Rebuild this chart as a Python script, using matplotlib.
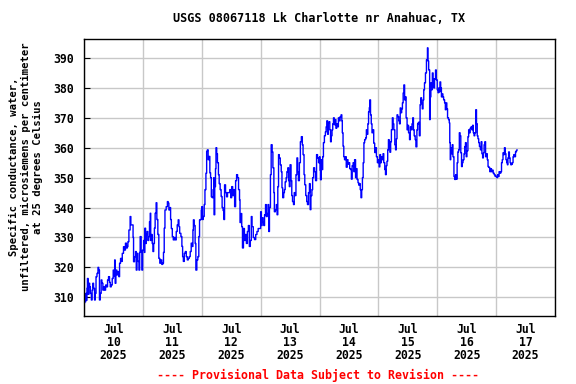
import matplotlib
matplotlib.use("Agg")
import matplotlib.pyplot as plt
import numpy as np

title = "USGS 08067118 Lk Charlotte nr Anahuac, TX"
ylabel = "Specific conductance, water,\nunfiltered, microsiemens per centimeter\nat 25 degrees Celsius"
footer = "---- Provisional Data Subject to Revision ----"
day_labels = ["Jul\n10\n2025", "Jul\n11\n2025", "Jul\n12\n2025", "Jul\n13\n2025",
              "Jul\n14\n2025", "Jul\n15\n2025", "Jul\n16\n2025", "Jul\n17\n2025"]
yticks = [310, 320, 330, 340, 350, 360, 370, 380, 390]

# hours since 2025-07-10 00:00
hours = [
 0.0,0.2,0.4,0.7,0.95,1.2,1.4,1.7,2.0,2.3,2.6,3.0,3.3,3.6,3.9,4.3,4.6,4.9,5.3,5.7,6.0,6.3,6.6,7.0,7.3,7.7,8.0,8.4,8.8,9.2,9.6,10.0,10.4,10.7,11.1,11.5,11.9,12.2,12.5,12.7,13.0,13.4,13.8,14.2,14.5,14.9,15.3,15.6,16.1,16.5,16.9,17.3,17.7,17.9,18.3,18.8,19.1,19.6,20.0,20.2,20.6,21.0,21.3,21.6,22.0,22.4,22.7,22.9,23.3,23.6,23.9,
 24.3,24.6,24.8,25.1,25.4,25.7,26.0,26.4,26.7,27.0,27.2,27.5,27.8,28.1,28.4,28.7,29.0,29.4,29.7,30.1,30.5,30.9,31.3,31.7,32.1,32.4,32.7,33.0,33.5,34.0,34.3,34.6,35.0,35.3,35.6,36.0,36.4,36.8,37.2,37.6,38.0,38.4,38.7,39.0,39.5,39.9,40.2,40.5,40.9,41.3,41.7,42.1,42.5,42.9,43.3,43.7,44.0,44.4,44.6,44.9,45.3,45.6,46.0,46.4,46.8,47.1,47.5,47.8,
 48.0,48.3,48.6,49.0,49.3,49.7,50.0,50.3,50.6,51.0,51.3,51.6,51.9,52.3,52.6,52.9,53.0,53.3,53.6,53.8,54.1,54.4,54.8,55.1,55.5,55.9,56.3,56.7,57.0,57.3,57.7,58.1,58.5,59.0,59.4,59.8,60.2,60.6,61.0,61.4,61.8,62.2,62.6,63.0,63.4,63.6,64.0,64.3,64.6,65.0,65.4,65.8,66.2,66.6,67.0,67.4,67.8,68.2,68.5,69.0,69.5,70.0,70.5,71.0,71.5,
 72.0,72.3,72.6,73.0,73.3,73.6,74.0,74.3,74.7,75.0,75.3,75.6,76.0,76.3,76.7,77.0,77.4,77.6,78.0,78.4,78.7,79.0,79.3,79.6,80.0,80.4,80.7,81.0,81.4,81.7,82.0,82.4,82.7,83.1,83.4,83.7,84.0,84.4,84.7,85.0,85.4,85.7,86.0,86.4,86.8,87.1,87.4,87.8,88.2,88.6,89.0,89.3,89.7,90.0,90.4,90.8,91.1,91.5,91.9,92.2,92.5,92.9,93.2,93.6,94.0,94.4,94.8,95.2,95.6,
 96.0,96.2,96.4,96.7,97.0,97.3,97.6,98.0,98.4,98.7,99.0,99.3,99.6,99.9,100.2,100.5,100.8,101.1,101.4,101.7,102.0,102.4,102.7,103.0,103.4,103.7,104.0,104.4,104.8,105.1,105.3,105.6,105.9,106.2,106.6,106.9,107.3,107.6,108.0,108.3,108.7,109.0,109.3,109.7,110.0,110.3,110.7,111.0,111.3,111.7,112.0,112.3,112.6,112.9,113.2,113.5,113.8,114.1,114.4,114.8,115.1,115.4,115.7,116.0,116.3,116.5,116.8,117.1,117.4,117.7,118.1,118.5,118.9,119.2,119.6,
 120.0,120.3,120.6,120.9,121.2,121.6,121.9,122.2,122.6,122.9,123.2,123.5,123.8,124.1,124.4,124.7,125.0,125.3,125.7,126.0,126.3,126.7,127.0,127.3,127.6,127.9,128.3,128.6,128.9,129.2,129.5,129.8,130.1,130.4,130.7,131.0,131.3,131.7,132.0,132.3,132.7,133.0,133.3,133.7,134.0,134.3,134.6,135.0,135.3,135.7,136.0,136.3,136.7,137.0,137.3,137.6,137.9,138.2,138.5,138.8,139.2,139.6,140.0,140.2,140.5,140.9,141.1,141.4,141.7,142.0,142.3,142.6,142.9,143.3,143.6,
 144.0,144.3,144.6,144.9,145.1,145.4,145.7,146.0,146.3,146.6,147.0,147.3,147.6,147.9,148.2,148.6,148.9,149.1,149.3,149.5,149.8,150.1,150.4,150.8,151.1,151.5,151.8,152.1,152.4,152.7,153.0,153.3,153.6,153.9,154.2,154.5,154.9,155.2,155.5,155.8,156.1,156.5,156.8,157.1,157.4,157.8,158.1,158.4,158.7,159.0,159.3,159.7,160.0,160.3,160.6,160.9,161.2,161.6,161.9,162.2,162.5,162.8,163.1,163.4,163.7,164.0,164.4,164.7,165.0,165.4,165.8,166.1,166.4,166.8,167.2,167.6,
 168.0,168.3,168.6,168.9,169.2,169.6,169.9,170.2,170.5,170.8,171.1,171.4,171.7,172.0,172.3,172.6,172.8,173.1,173.4,173.7,174.0,174.3,174.6,174.9,175.2,175.5,175.9,176.2,176.5,
]
conductance = [
 308.0,310.5,308.5,311.3,309.0,313.0,316.3,311.0,314.7,313.5,311.3,309.1,312.4,314.7,313.0,309.1,311.3,316.9,318.0,320.0,319.1,309.1,311.3,315.8,314.7,312.4,313.5,312.4,314.1,313.5,315.8,316.9,315.0,313.5,314.1,316.3,319.1,317.0,322.5,314.7,319.1,317.5,318.6,316.9,321.4,323.0,322.0,324.7,326.9,325.8,328.1,326.5,327.0,328.6,332.5,337.0,334.2,334.2,330.0,321.9,323.6,325.3,319.1,324.7,322.0,319.1,325.0,330.3,325.3,319.1,325.8,
 329.0,325.0,333.1,328.0,331.0,332.0,329.0,330.3,335.3,338.1,329.0,331.0,328.0,325.3,328.0,333.1,338.1,341.6,336.0,331.0,323.0,321.4,322.5,321.0,321.4,325.0,333.1,339.2,340.3,342.0,341.5,339.2,340.0,336.0,333.0,330.3,329.2,330.0,329.2,332.0,334.2,335.9,333.6,331.4,330.3,327.0,323.6,322.0,324.7,325.3,323.6,322.5,323.0,323.6,325.3,328.1,327.0,332.5,335.9,334.0,328.0,319.1,322.5,323.6,330.3,335.9,336.0,339.2,
 340.3,336.0,337.0,341.0,346.0,351.5,358.8,359.3,356.0,357.1,351.6,350.0,343.6,343.3,346.0,350.0,337.6,347.0,353.0,360.0,358.0,355.0,351.0,348.0,346.0,343.7,340.0,339.0,336.0,347.6,345.0,343.6,345.0,345.0,346.0,343.3,347.0,344.0,346.0,340.3,349.0,351.0,350.0,346.0,342.6,335.0,338.0,333.6,326.5,333.0,329.0,331.0,328.0,332.0,334.0,327.0,329.0,337.0,333.6,330.0,329.3,331.0,332.0,333.0,333.0,
 338.6,334.0,336.6,335.0,334.0,337.6,341.0,337.0,338.0,341.0,332.0,340.0,351.0,361.0,358.6,353.3,345.0,338.6,339.3,341.0,337.6,347.0,357.7,356.6,354.3,352.0,346.6,343.3,345.0,346.0,348.6,350.0,352.0,353.3,349.0,347.0,354.3,349.0,344.0,342.0,341.0,345.0,344.0,351.0,356.6,352.0,349.0,355.0,362.0,363.7,361.0,357.7,351.0,347.6,344.0,342.0,341.0,345.0,348.0,339.3,344.0,346.0,350.0,353.3,352.0,349.0,357.7,356.6,355.0,
 357.0,352.5,349.3,356.0,352.7,357.0,361.7,364.0,365.3,367.0,369.0,364.5,368.3,368.7,366.0,362.0,364.0,366.0,368.0,370.0,367.7,369.4,366.5,368.0,367.0,370.0,369.0,370.4,371.0,369.0,365.0,360.5,357.0,356.0,357.0,353.5,356.0,354.5,355.0,353.0,352.7,349.5,354.0,355.0,352.0,356.0,350.0,353.0,349.4,348.3,347.5,348.0,346.0,343.3,346.0,350.0,355.0,361.7,362.7,363.3,366.0,364.5,368.0,372.0,373.4,376.0,371.0,368.0,365.0,366.0,361.5,358.4,360.0,357.0,355.0,
 356.0,353.6,357.7,355.0,357.0,356.0,358.0,355.0,352.7,351.0,354.0,355.5,359.3,362.7,360.0,358.5,362.0,366.0,370.0,368.0,366.0,361.0,359.3,363.0,371.0,370.4,369.0,368.0,373.3,371.7,373.0,375.0,378.3,381.0,376.0,377.0,370.0,366.0,367.5,365.0,362.7,367.0,366.0,368.0,370.0,366.0,364.0,362.7,360.3,366.0,368.0,368.5,364.0,374.4,376.7,375.0,373.0,376.0,379.4,381.7,385.0,389.4,393.4,389.0,386.0,369.4,377.0,381.7,379.4,385.0,383.0,380.0,383.0,386.0,382.7,
 379.4,378.4,380.0,378.7,382.0,380.0,377.0,378.0,377.0,376.0,375.0,372.7,375.0,373.0,370.0,369.4,368.3,361.7,356.0,360.0,358.0,361.0,357.0,350.4,349.4,351.0,349.5,355.0,358.6,359.3,365.0,364.0,358.3,353.7,355.0,356.0,358.0,360.4,361.7,357.0,359.0,363.7,366.0,365.0,366.5,367.0,366.0,367.5,365.0,364.0,365.0,372.7,368.0,364.0,363.0,361.7,360.4,359.3,362.0,358.0,356.6,358.3,361.0,362.0,357.0,358.0,356.0,353.7,353.4,352.0,353.0,352.0,352.5,351.5,351.0,350.4,
 350.5,350.0,351.0,350.4,352.0,351.5,352.0,355.0,356.0,358.3,357.7,360.0,358.0,356.0,355.0,354.3,356.6,358.6,356.6,355.0,354.3,354.5,355.0,357.0,357.7,357.0,358.6,359.0,359.3,
]

mono = "DejaVu Sans Mono"
fig = plt.figure(figsize=(5.76, 3.84), dpi=100)
ax = fig.add_axes([84/576, 1-316/384, (555-84)/576, (316-39)/384])

ax.plot(hours, conductance, color="#0000ff", linewidth=1.0, drawstyle="steps-post")

ax.set_xlim(0, 192)
ax.set_ylim(303.75, 396.35)
ax.set_xticks(np.arange(0, 193, 24))
ax.set_xticks(np.arange(12, 192, 24), minor=True)
ax.set_xticklabels([])
ax.set_xticklabels(day_labels, minor=True, fontfamily=mono, fontweight="bold", fontsize=8.3, linespacing=1.02)
ax.set_yticks(yticks)
ax.set_yticklabels([str(v) for v in yticks], fontfamily=mono, fontweight="bold", fontsize=8.3)
ax.tick_params(axis="x", which="both", length=0, pad=5)
ax.tick_params(axis="y", length=4, direction="in", pad=7)
ax.grid(True, which="major", color="#c8c8c8", linewidth=1.0)
ax.set_axisbelow(True)
for s in ax.spines.values():
    s.set_linewidth(1.0)
    s.set_color("black")

ax.set_title(title, fontfamily=mono, fontweight="bold", fontsize=8.5, pad=12)
fig.text(26/576, 1-167/384, ylabel, rotation=90, ha="center", va="center", multialignment="center",
         fontfamily=mono, fontweight="bold", fontsize=7.6, linespacing=1.28)
fig.text(318/576, 1-375/384, footer, color="red", fontfamily=mono, fontweight="bold",
         fontsize=8.4, ha="center", va="center")

fig.savefig("out.png", dpi=100)
